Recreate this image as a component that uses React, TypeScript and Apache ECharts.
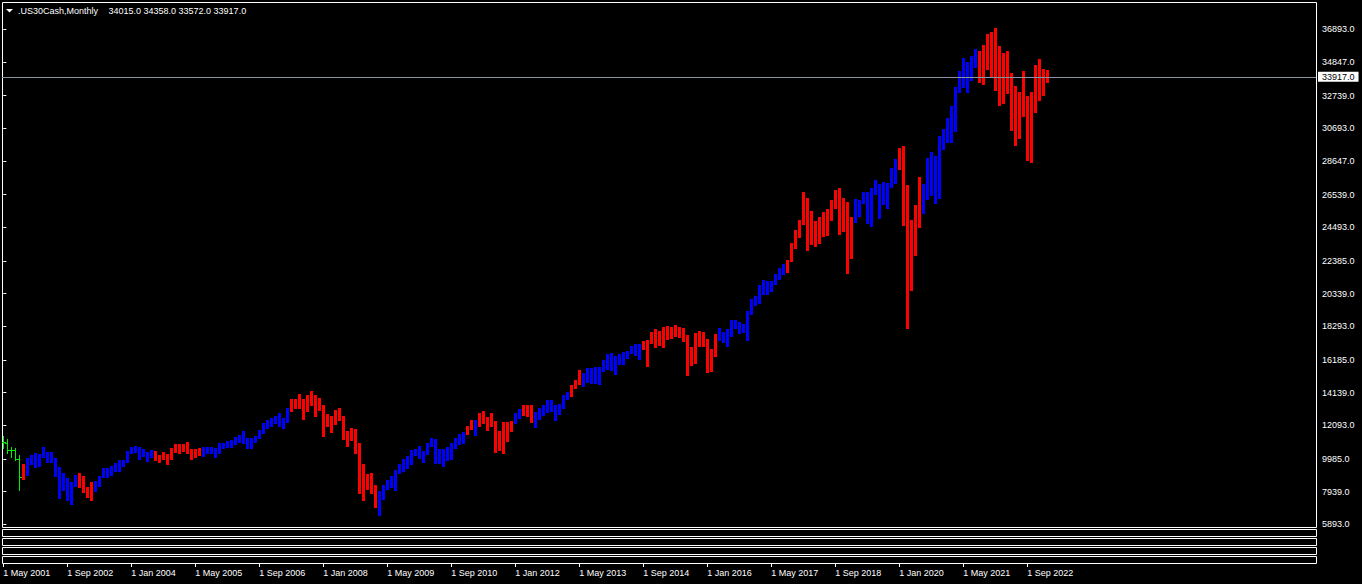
import React, { useEffect, useRef } from "react";
import * as echarts from "echarts";

const SYMBOL_TITLE = ".US30Cash,Monthly";
const LAST_BAR = [34015.0, 34358.0, 33572.0, 33917.0];
const BID = 33917.0;

// monthly highs, May 2001 .. Feb 2023 (12 per row)
const highs = [
  11420, 11235, 10710, 10670, 10230, 9670, 10045, 10230, 10360, 10320, 10735, 10420,
  10420, 10045, 9480, 9105, 8795, 8540, 8980, 9105, 8920, 8230, 8540, 8605,
  8920, 9420, 9420, 9545, 9730, 9920, 9920, 10485, 10735, 10795, 10735, 10610,
  10420, 10545, 10485, 10235, 10420, 10295, 10670, 10920, 10920, 10920, 11045, 10610,
  10610, 10670, 10735, 10735, 10735, 10670, 10985, 10985, 11110, 11175, 11360, 11485,
  11735, 11300, 11300, 11425, 11800, 12235, 12425, 12550, 12675, 12865, 12550, 13175,
  13740, 13740, 14055, 13740, 13990, 14240, 13990, 13805, 13365, 12800, 12675, 13050,
  13175, 12675, 11735, 11925, 11860, 10985, 9670, 9045, 9105, 8355, 7980, 8355,
  8665, 8920, 9295, 9660, 9960, 10170, 10545, 10610, 10795, 10485, 10985, 11300,
  11235, 10610, 10610, 10735, 10985, 11300, 11550, 11675, 12050, 12425, 12425, 12865,
  12990, 12615, 12865, 12365, 11735, 12300, 12300, 12365, 12865, 13115, 13365, 13365,
  13365, 12925, 13175, 13365, 13680, 13680, 13365, 13425, 13990, 14180, 14615, 14930,
  15555, 15370, 15680, 15680, 15745, 15745, 16185, 16560, 16620, 16435, 16560, 16685,
  16745, 17060, 17185, 17185, 17370, 17435, 17935, 18125, 18000, 18250, 18310, 18250,
  18375, 18250, 18185, 17750, 16995, 17875, 18000, 17935, 17500, 16870, 17810, 18185,
  17935, 18125, 18685, 18685, 18560, 18435, 19250, 20005, 20190, 20880, 21190, 21130,
  21130, 21570, 21945, 22195, 22445, 23510, 24325, 24950, 26705, 26330, 25515, 24885,
  25140, 25450, 25640, 26200, 26830, 26955, 26330, 26075, 25140, 26265, 26200, 26705,
  26705, 26955, 27455, 27205, 27330, 27265, 28205, 28770, 29460, 29585, 27145, 24950,
  25890, 27645, 27205, 28835, 29210, 28960, 30210, 30650, 31340, 32090, 33280, 34280,
  35095, 34845, 35220, 35660, 35535, 35910, 36600, 36725, 36975, 35845, 35410, 35535,
  34155, 33340, 32965, 34280, 32715, 32965, 34655, 35035, 34405, 34358,
];

const lows = [
  10690, 10380, 10110, 9900, 8040, 8730, 8980, 9670, 9480, 9565, 10110, 9795,
  9795, 8920, 7540, 8040, 7415, 7165, 8290, 8230, 7915, 7605, 7415, 7980,
  8290, 8855, 8855, 8980, 9230, 9230, 9545, 9795, 10360, 10420, 9985, 10170,
  9855, 10110, 9920, 9795, 9985, 9670, 9985, 10420, 10360, 10485, 10360, 9985,
  10090, 10210, 10190, 10360, 10360, 10110, 10360, 10670, 10735, 10735, 10920, 11045,
  10985, 10670, 10670, 11045, 11300, 11610, 11925, 12050, 12235, 12050, 11925, 12300,
  12990, 13175, 13175, 12490, 12990, 13365, 12675, 13050, 11425, 12050, 11675, 12175,
  12425, 11235, 10795, 11175, 10360, 7855, 7415, 8105, 7855, 6975, 6475, 7480,
  8105, 8230, 8040, 9085, 9260, 9400, 9650, 10235, 10045, 9795, 10295, 10795,
  9730, 9730, 9545, 9920, 9985, 10670, 10920, 10985, 11550, 11860, 11485, 12050,
  12235, 11800, 12050, 10420, 10545, 10360, 11110, 11735, 12235, 12550, 12740, 12675,
  12300, 11985, 12490, 12740, 12925, 12990, 12425, 12800, 13175, 13740, 13930, 14430,
  14680, 14555, 14805, 14740, 14740, 14680, 15495, 15620, 15555, 15305, 15930, 15930,
  16305, 16620, 16495, 16245, 16870, 15805, 17245, 16995, 17120, 16995, 17500, 17560,
  17685, 17625, 17370, 15245, 15870, 15995, 17060, 17060, 15430, 15495, 16435, 17435,
  17310, 17060, 17685, 18185, 17875, 17935, 17435, 19065, 19625, 19750, 20315, 20315,
  20505, 20940, 21255, 21570, 21695, 22380, 23195, 23885, 24700, 23070, 23445, 23320,
  23510, 23950, 24010, 24950, 25700, 24075, 24260, 21630, 22570, 24825, 25200, 26015,
  24760, 24575, 26580, 25075, 25950, 25700, 27015, 27265, 28145, 24640, 18205, 20565,
  22760, 24510, 25390, 26265, 26515, 26015, 26330, 29395, 29855, 29855, 30545, 32985,
  33280, 32985, 33740, 34530, 33615, 33490, 34425, 33925, 33110, 32175, 32300, 32925,
  30605, 29670, 30105, 31485, 28730, 28605, 31735, 32485, 32800, 33572,
];

// colour runs: g = plain chart bar, b = up (blue), r = down (red)
const trendRuns: [string, number][] = [
  ["g", 5], ["r", 1], ["b", 13], ["r", 4], ["b", 15], ["r", 12], ["b", 22], ["r", 22],
  ["b", 22], ["r", 2], ["b", 1], ["r", 9], ["b", 2], ["r", 3], ["b", 9], ["r", 3],
  ["b", 15], ["r", 19], ["b", 17], ["r", 17], ["b", 11], ["r", 6], ["b", 14], ["r", 18],
];

// open / close of the first plain (green) bars
const rawOpens = [11028, 10966, 10527, 10527, 9964];
const rawCloses = [11028, 10527, 10527, 9964, 8874];

const priceTicks = [
  5893, 7939, 9985, 12093, 14139, 16185, 18293, 20339, 22385, 24493, 26539, 28647,
  30693, 32739, 34847, 36893,
];

const dateTickIndex = [0, 16, 32, 48, 64, 80, 96, 112, 128, 144, 160, 176, 192, 208, 224, 240, 256];
const dateTickLabels = [
  "1 May 2001", "1 Sep 2002", "1 Jan 2004", "1 May 2005", "1 Sep 2006", "1 Jan 2008",
  "1 May 2009", "1 Sep 2010", "1 Jan 2012", "1 May 2013", "1 Sep 2014", "1 Jan 2016",
  "1 May 2017", "1 Sep 2018", "1 Jan 2020", "1 May 2021", "1 Sep 2022",
];

const FONT = "Liberation Sans";
const W = 1362;
const H = 584;
const GRID_LEFT = 2;
const GRID_TOP = 2;
const GRID_RIGHT = 1316;
const GRID_BOTTOM = 527;
const BAR_STEP = 4;
const X_MIN = -0.325;
const X_MAX = X_MIN + (GRID_RIGHT - GRID_LEFT) / BAR_STEP;

export default function App() {
  const ref = useRef<HTMLDivElement>(null);

  useEffect(() => {
    document.body.style.margin = "0";
    document.body.style.background = "#000";
    const chart = echarts.init(ref.current!, null, { renderer: "svg" });

    const trend: string[] = [];
    trendRuns.forEach(([c, n]) => {
      for (let k = 0; k < n; k++) trend.push(c);
    });
    const data = highs.map((h, i) => [
      i,
      h,
      lows[i],
      trend[i] === "g" ? 0 : trend[i] === "b" ? 1 : -1,
      i < rawOpens.length ? rawOpens[i] : 0,
      i < rawCloses.length ? rawCloses[i] : 0,
    ]);

    const subBoxes = [529, 538, 547, 556].map((y) => ({
      type: "rect",
      silent: true,
      shape: { x: GRID_LEFT + 0.5, y: y + 0.5, width: GRID_RIGHT - GRID_LEFT, height: 7 },
      style: { fill: "none", stroke: "#ffffff", lineWidth: 1 },
    }));

    const option: any = {
      animation: false,
      backgroundColor: "#000000",
      grid: {
        left: GRID_LEFT,
        top: GRID_TOP,
        right: W - GRID_RIGHT,
        bottom: H - GRID_BOTTOM,
        show: false,
        containLabel: false,
        outerBoundsMode: "none",
      },
      xAxis: {
        type: "value",
        min: X_MIN,
        max: X_MAX,
        position: "bottom",
        offset: 37,
        axisLine: { show: false },
        splitLine: { show: false },
        axisTick: {
          show: true,
          length: 3,
          customValues: dateTickIndex,
          lineStyle: { color: "#ffffff", width: 1 },
        },
        axisLabel: {
          show: true,
          customValues: dateTickIndex,
          formatter: (v: number) => {
            const k = dateTickIndex.indexOf(Math.round(v));
            return k >= 0 ? dateTickLabels[k] : "";
          },
          color: "#ffffff",
          fontFamily: FONT,
          fontSize: 9,
          align: "left",
          margin: 4,
        },
      },
      yAxis: {
        type: "value",
        position: "right",
        min: 5724,
        max: 38603,
        axisLine: { show: false },
        splitLine: { show: false },
        axisTick: {
          show: true,
          length: 3,
          customValues: priceTicks,
          lineStyle: { color: "#ffffff", width: 1 },
        },
        axisLabel: {
          show: true,
          customValues: priceTicks,
          formatter: (v: number) => v.toFixed(1),
          color: "#ffffff",
          fontFamily: FONT,
          fontSize: 9,
          margin: 6,
        },
      },
      series: [
        {
          type: "custom",
          data,
          clip: true,
          z: 2,
          renderItem: (_params: any, api: any) => {
            const i = api.value(0);
            const hi = api.coord([i, api.value(1)]);
            const lo = api.coord([i, api.value(2)]);
            const t = api.value(3);
            const cx = Math.round(hi[0]);
            const top = Math.round(hi[1]);
            const bot = Math.round(lo[1]);
            if (t === 0) {
              const op = Math.round(api.coord([i, api.value(4)])[1]) + 0.5;
              const cl = Math.round(api.coord([i, api.value(5)])[1]) + 0.5;
              const st = { stroke: "#00f000", lineWidth: 1 };
              return {
                type: "group",
                children: [
                  { type: "line", shape: { x1: cx + 0.5, y1: top, x2: cx + 0.5, y2: bot + 1 }, style: st },
                  { type: "line", shape: { x1: cx - 2, y1: op, x2: cx + 1, y2: op }, style: st },
                  { type: "line", shape: { x1: cx, y1: cl, x2: cx + 3, y2: cl }, style: st },
                ],
              };
            }
            return {
              type: "rect",
              shape: { x: cx - 1, y: top, width: 3, height: Math.max(1, bot - top + 1) },
              style: { fill: t > 0 ? "#0000ff" : "#ff0000" },
            };
          },
        },
        {
          type: "line",
          data: [],
          z: 5,
          markLine: {
            silent: true,
            symbol: ["none", "none"],
            lineStyle: { color: "#8a949e", width: 1, type: "solid" },
            label: {
              show: true,
              position: "end",
              distance: 2,
              formatter: () => BID.toFixed(1),
              color: "#000000",
              backgroundColor: "#ffffff",
              fontFamily: FONT,
              fontSize: 9,
              lineHeight: 10,
              padding: [0, 4, 0, 4],
            },
            data: [{ yAxis: BID }],
          },
        },
      ],
      graphic: [
        {
          type: "rect",
          silent: true,
          shape: {
            x: GRID_LEFT + 0.5,
            y: GRID_TOP + 0.5,
            width: GRID_RIGHT - GRID_LEFT,
            height: GRID_BOTTOM - GRID_TOP,
          },
          style: { fill: "none", stroke: "#ffffff", lineWidth: 1 },
        },
        ...subBoxes,
        {
          type: "polygon",
          silent: true,
          shape: { points: [[6, 9], [13, 9], [9.5, 12.5]] },
          style: { fill: "#ffffff" },
        },
        {
          type: "text",
          silent: true,
          x: 18,
          y: 11,
          style: {
            text: SYMBOL_TITLE,
            fill: "#ffffff",
            font: `9px "${FONT}"`,
            verticalAlign: "middle",
          },
        },
        {
          type: "text",
          silent: true,
          x: 108.5,
          y: 11,
          style: {
            text: LAST_BAR.map((v) => v.toFixed(1)).join(" "),
            fill: "#ffffff",
            font: `9px "${FONT}"`,
            verticalAlign: "middle",
          },
        },
      ],
    };

    chart.setOption(option);
    return () => chart.dispose();
  }, []);

  return (
    <div
      ref={ref}
      style={{ position: "fixed", left: 0, top: 0, width: W, height: H, background: "#000" }}
    />
  );
}
